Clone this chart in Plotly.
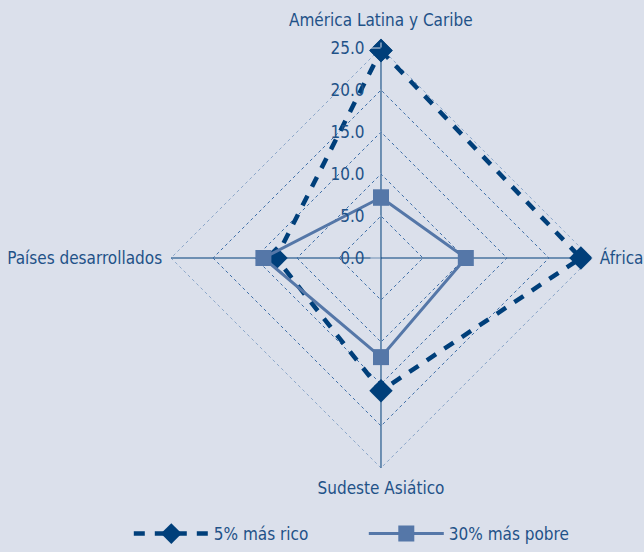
"""
Radar: distribución por región, 5% más rico vs 30% más pobre
"""
import plotly.graph_objects as go

regiones = ["América Latina y Caribe", "África", "Sudeste Asiático", "Países desarrollados"]
rico_5 = [24.7, 23.8, 15.8, 12.5]
pobre_30 = [7.2, 10.1, 11.8, 14.0]
ticks = [0, 5, 10, 15, 20, 25]

BG = "#dbe0eb"
TXT = "#1f5288"
RICO = "#003f7a"
POBRE = "#5577a8"
GRID = "#3f6fa8"
FONT = "DejaVu Sans Condensed, Liberation Sans Narrow, sans-serif"


def cerrar(v):
    return list(v) + [v[0]]


fig = go.Figure()
# borde exterior punteado (última marca del eje radial)
fig.add_trace(go.Scatterpolar(
    r=[ticks[-1]] * 5, theta=cerrar(regiones), mode="lines",
    line=dict(color=GRID, width=1, dash="dot"),
    hoverinfo="skip", showlegend=False,
))
fig.add_trace(go.Scatterpolar(
    r=cerrar(rico_5), theta=cerrar(regiones),
    name="5% más rico", mode="lines+markers",
    line=dict(color=RICO, width=4.5, dash="11px,10px"),
    marker=dict(symbol="diamond", size=18, color=RICO),
))
fig.add_trace(go.Scatterpolar(
    r=cerrar(pobre_30), theta=cerrar(regiones),
    name="30% más pobre", mode="lines+markers",
    line=dict(color=POBRE, width=3),
    marker=dict(symbol="square", size=16, color=POBRE),
))

# la etiqueta superior va más separada del vértice que las demás
etiquetas = [""] + regiones[1:]

fig.update_layout(
    width=644, height=552,
    paper_bgcolor=BG, plot_bgcolor=BG,
    font=dict(family=FONT, size=17, color=TXT),
    margin=dict(l=0, r=0, t=0, b=0),
    polar=dict(
        bgcolor=BG,
        gridshape="linear",
        domain=dict(x=[0.2655, 0.9177], y=[0.1522, 0.913]),
        radialaxis=dict(
            range=[0, 25], tickvals=ticks, tickformat=".1f",
            angle=90, tickangle=90, side="counterclockwise",
            showline=False, ticks="outside", ticklen=10, tickcolor=BG,
            gridcolor=GRID, griddash="dot", gridwidth=1,
            tickfont=dict(size=17, color=TXT),
        ),
        angularaxis=dict(
            rotation=90, direction="clockwise",
            showline=False, ticks="outside", ticklen=5, tickcolor=BG,
            tickvals=regiones, ticktext=etiquetas,
            gridcolor=RICO, gridwidth=1,
            tickfont=dict(size=17, color=TXT),
        ),
    ),
    annotations=[dict(
        text=regiones[0], x=0.5916, y=0.9638, xref="paper", yref="paper",
        xanchor="center", yanchor="middle", showarrow=False,
        font=dict(size=17, color=TXT),
    )],
    legend=dict(
        orientation="h", x=0.2, xanchor="left", y=0.0, yanchor="bottom",
        itemwidth=75, entrywidth=145, bgcolor="rgba(0,0,0,0)",
        font=dict(size=17, color=TXT),
    ),
)

fig.write_html("out.html", config={"displayModeBar": False},
               post_script="document.body.style.margin='0';")
